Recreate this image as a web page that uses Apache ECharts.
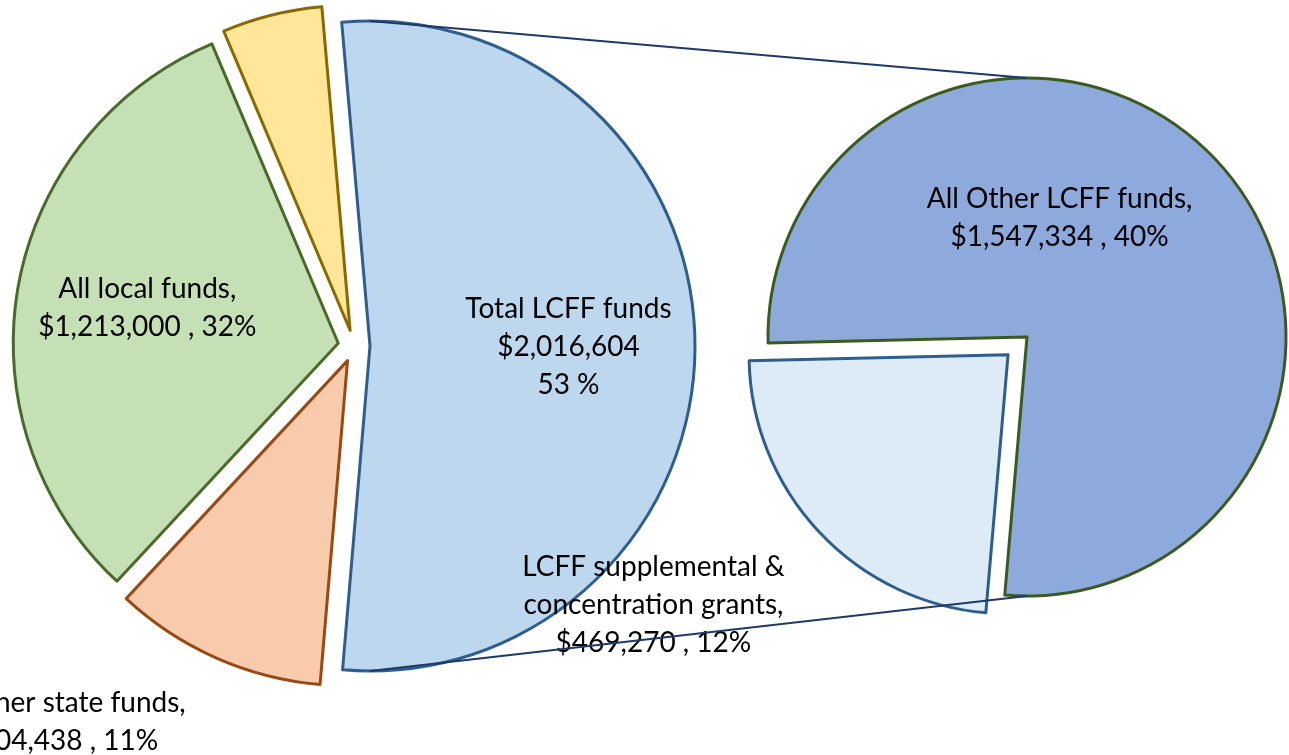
<!DOCTYPE html>
<html>
<head>
<meta charset="utf-8">
<script src="https://cdn.jsdelivr.net/npm/echarts@6/dist/echarts.min.js"></script>
<style>
html, body { margin: 0; padding: 0; background: #fff; }
#chart { width: 1289px; height: 755px; }
</style>
</head>
<body>
<div id="chart"></div>
<script>
// left pie: where the money comes from
var fundNames = ['Total LCFF funds', 'Other state funds', 'All local funds', 'Federal funds'];
var fundValues = [2016604, 404438, 1213000, 190000];
var fundColors = ['#BDD7EE', '#F8CBAD', '#C5E0B4', '#FFE699'];
var fundBorders = ['#2E5E8C', '#984A14', '#4A6A2A', '#8A6A00'];

// right pie: split of the LCFF slice
var lcffNames = ['All Other LCFF funds', 'LCFF supplemental &\nconcentration grants'];
var lcffValues = [1547334, 469270];
var lcffColors = ['#8EA9DB', '#DDEBF7'];
var lcffBorders = ['#3B5A1E', '#2E5E8C'];

var total = fundValues.reduce(function (a, b) { return a + b; }, 0);

function money(v) { return '$' + v.toLocaleString('en-US'); }
function pct(v) { return Math.round(v / total * 100); }

// layout
var leftCenter = [354, 346], leftR = 325, leftOff = 16;
var rightCenter = [1027, 337], rightR = 259, rightOff = 26;
var leftNudge = [[33, 1], [-318, 210], [-28, -6], [0, 0]];
var rightNudge = [[-64, -28], [-258, 159]];

var font = 'Lato';
var labelBase = {
    show: true,
    position: 'inside',
    color: '#000',
    fontFamily: font,
    fontSize: 28,
    lineHeight: 38,
    align: 'center'
};

var chart = echarts.init(document.getElementById('chart'));

chart.setOption({
    backgroundColor: '#fff',
    animation: false,
    graphic: [
        {
            type: 'line', z: 3,
            shape: { x1: leftCenter[0] + leftOff, y1: leftCenter[1] - leftR, x2: rightCenter[0], y2: rightCenter[1] - rightR },
            style: { stroke: '#1F3A68', lineWidth: 2 }
        },
        {
            type: 'line', z: 3,
            shape: { x1: leftCenter[0] + leftOff, y1: leftCenter[1] + leftR, x2: rightCenter[0], y2: rightCenter[1] + rightR },
            style: { stroke: '#1F3A68', lineWidth: 2 }
        }
    ],
    series: [
        {
            type: 'pie',
            center: leftCenter,
            radius: leftR,
            startAngle: 95,
            clockwise: true,
            selectedMode: 'multiple',
            selectedOffset: leftOff,
            avoidLabelOverlap: false,
            emphasis: { disabled: true },
            labelLine: { show: false },
            label: Object.assign({}, labelBase, {
                formatter: function (p) {
                    if (p.dataIndex === 0) {
                        return p.name + '\n' + money(p.value) + '\n' + pct(p.value) + ' %';
                    }
                    return p.name + ',\n' + money(p.value) + ' , ' + pct(p.value) + '%';
                }
            }),
            labelLayout: function (p) {
                var n = leftNudge[p.dataIndex];
                var out = { dx: n[0], dy: n[1] };
                // the cut-off "Other state funds" label hangs left-aligned
                if (p.dataIndex === 1) out.align = 'left';
                return out;
            },
            data: fundNames.map(function (name, i) {
                return {
                    name: name,
                    value: fundValues[i],
                    selected: true,
                    label: { show: i !== 3 },
                    itemStyle: { color: fundColors[i], borderColor: fundBorders[i], borderWidth: 3 }
                };
            })
        },
        {
            type: 'pie',
            center: rightCenter,
            radius: rightR,
            startAngle: 181.3,
            clockwise: true,
            selectedMode: 'multiple',
            selectedOffset: rightOff,
            avoidLabelOverlap: false,
            emphasis: { disabled: true },
            labelLine: { show: false },
            label: Object.assign({}, labelBase, {
                formatter: function (p) {
                    return p.name + ',\n' + money(p.value) + ' , ' + pct(p.value) + '%';
                }
            }),
            labelLayout: function (p) {
                var n = rightNudge[p.dataIndex];
                return { dx: n[0], dy: n[1] };
            },
            data: lcffNames.map(function (name, i) {
                return {
                    name: name,
                    value: lcffValues[i],
                    selected: i === 1,
                    itemStyle: { color: lcffColors[i], borderColor: lcffBorders[i], borderWidth: 3 }
                };
            })
        }
    ]
});
</script>
</body>
</html>
